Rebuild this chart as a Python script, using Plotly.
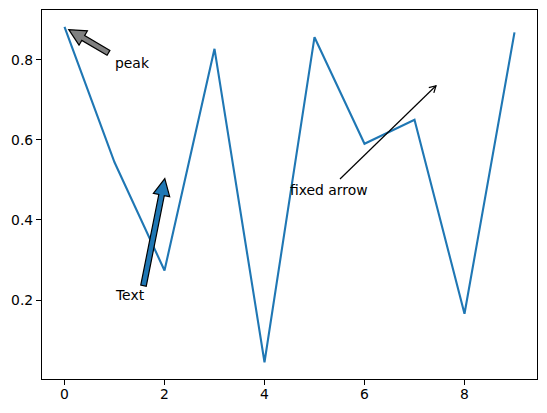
import math
import plotly.graph_objects as go

# ---- data ----
x_vals = list(range(10))
y_vals = [0.882, 0.544, 0.274, 0.827, 0.045, 0.856, 0.590, 0.650, 0.166, 0.868]

# annotation texts and their anchors (data coords, left/baseline)
text_labels = ["peak", "Text"]
text_pos = [(1.0, 0.78), (1.0, 0.2)]
# fancy arrows (data coords): tail -> tip
arrow_tails = [(0.88, 0.817), (1.58, 0.236)]
arrow_tips = [(0.086, 0.875), (2.006, 0.503)]
arrow_fill = ["#808080", "#1f77b4"]

# fixed arrow in axes fraction
fixed_label = "fixed arrow"
fixed_text_pos = (0.5, 0.5)
fixed_tail = (0.602, 0.542)
fixed_tip = (0.8, 0.8)

# ---- layout geometry (page body has an 8px default margin) ----
WIDTH, HEIGHT = 539, 405
ML, MR, MT, MB = 34, 10, 2, 34
PW = WIDTH - ML - MR
PH = HEIGHT - MT - MB

xr = (min(x_vals), max(x_vals))
xpad = 0.05 * (xr[1] - xr[0])
x_range = [xr[0] - xpad, xr[1] + xpad]
yr = (min(y_vals), max(y_vals))
ypad = 0.05 * (yr[1] - yr[0])
y_range = [yr[0] - ypad, yr[1] + ypad]


def data_to_px(x, y):
    px = (x - x_range[0]) / (x_range[1] - x_range[0]) * PW
    py = (y - y_range[0]) / (y_range[1] - y_range[0]) * PH
    return px, py  # py measured upward from bottom of plot


def px_to_paper(px, py):
    return px / PW, py / PH


def fancy_arrow_path(tail_px, tip_px, w=2.8, hw=8.3, hl=16.7):
    tx, ty = tail_px
    hx, hy = tip_px
    dx, dy = hx - tx, hy - ty
    L = math.hypot(dx, dy)
    ux, uy = dx / L, dy / L
    nx, ny = -uy, ux
    bx, by = hx - ux * hl, hy - uy * hl
    pts = [
        (tx + nx * w, ty + ny * w),
        (bx + nx * w, by + ny * w),
        (bx + nx * hw, by + ny * hw),
        (hx, hy),
        (bx - nx * hw, by - ny * hw),
        (bx - nx * w, by - ny * w),
        (tx - nx * w, ty - ny * w),
    ]
    pp = [px_to_paper(*p) for p in pts]
    return "M " + " L ".join(f"{a:.5f},{b:.5f}" for a, b in pp) + " Z"


fig = go.Figure()
fig.add_trace(go.Scatter(x=x_vals, y=y_vals, mode="lines",
                         line=dict(color="#1f77b4", width=2.1),
                         showlegend=False, hoverinfo="skip"))

shapes = []
for tail, tip, col in zip(arrow_tails, arrow_tips, arrow_fill):
    path = fancy_arrow_path(data_to_px(*tail), data_to_px(*tip))
    shapes.append(dict(type="path", xref="paper", yref="paper", path=path,
                       fillcolor=col, line=dict(color="black", width=1.2),
                       layer="above"))

# fixed arrow: line + open chevron (tip shrunk by ~2pt like matplotlib)
tpx = (fixed_tail[0] * PW, fixed_tail[1] * PH)
hpx0 = (fixed_tip[0] * PW, fixed_tip[1] * PH)
dx, dy = hpx0[0] - tpx[0], hpx0[1] - tpx[1]
Ln = math.hypot(dx, dy)
ux, uy = dx / Ln, dy / Ln
shrink = 2.8
hpx = (hpx0[0] - ux * shrink, hpx0[1] - uy * shrink)
nx, ny = -uy, ux
hl, hw = 6.5, 3.6
a1 = (hpx[0] - ux * hl + nx * hw, hpx[1] - uy * hl + ny * hw)
a2 = (hpx[0] - ux * hl - nx * hw, hpx[1] - uy * hl - ny * hw)
p_t = px_to_paper(*tpx)
p_h = px_to_paper(*hpx)
p_a1 = px_to_paper(*a1)
p_a2 = px_to_paper(*a2)
shapes.append(dict(type="path", xref="paper", yref="paper",
                   path=f"M {p_t[0]:.5f},{p_t[1]:.5f} L {p_h[0]:.5f},{p_h[1]:.5f}",
                   line=dict(color="black", width=1.2)))
shapes.append(dict(type="path", xref="paper", yref="paper",
                   path=f"M {p_a1[0]:.5f},{p_a1[1]:.5f} L {p_h[0]:.5f},{p_h[1]:.5f} L {p_a2[0]:.5f},{p_a2[1]:.5f}",
                   line=dict(color="black", width=1.2)))

font = dict(family="DejaVu Sans", size=13.9, color="black")
annotations = []
for lab, (tx, ty) in zip(text_labels, text_pos):
    annotations.append(dict(x=tx, y=ty, xref="x", yref="y", text=lab,
                            showarrow=False, xanchor="left", yanchor="bottom",
                            yshift=-4, xshift=-1, font=font, borderpad=0))
annotations.append(dict(x=fixed_text_pos[0], y=fixed_text_pos[1], xref="paper",
                        yref="paper", text=fixed_label, showarrow=False,
                        xanchor="left", yanchor="bottom", yshift=-4, xshift=-1,
                        font=font, borderpad=0))

axis_common = dict(showgrid=False, zeroline=False, showline=True, mirror=True,
                   linecolor="black", linewidth=1.1, ticks="outside",
                   ticklen=5, tickwidth=1.1, tickcolor="black", automargin=False,
                   tickfont=dict(family="DejaVu Sans", size=13.9, color="black"))

fig.update_layout(
    width=WIDTH, height=HEIGHT,
    margin=dict(l=ML, r=MR, t=MT, b=MB, pad=0, autoexpand=False),
    paper_bgcolor="white", plot_bgcolor="white",
    xaxis=dict(range=x_range, tickmode="linear", tick0=0, dtick=2,
               ticklabelstandoff=-3, **axis_common),
    yaxis=dict(range=y_range, tickmode="linear", tick0=0, dtick=0.2,
               tickformat=".1f", **axis_common),
    shapes=shapes, annotations=annotations,
)

fig.write_html("out.html")
